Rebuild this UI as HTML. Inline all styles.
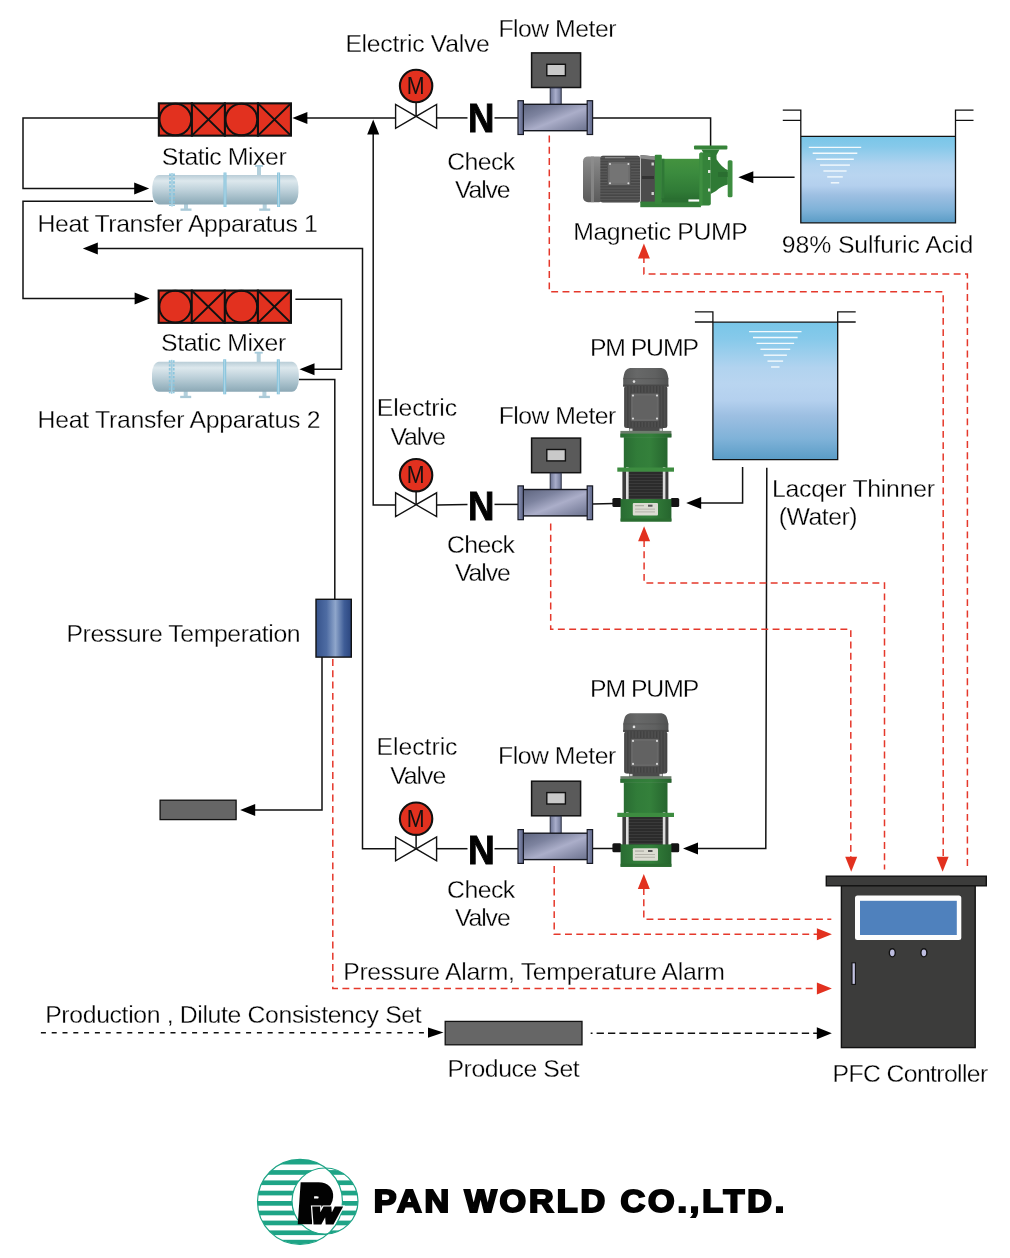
<!DOCTYPE html>
<html lang="en"><head><meta charset="utf-8"><title>PFC Controller Flow Diagram - PAN WORLD CO.,LTD.</title>
<style>
html,body{margin:0;padding:0;background:#fff;}
body{width:1010px;height:1258px;overflow:hidden;}
svg{display:block;font-family:"Liberation Sans", sans-serif;}
.ln{fill:none;stroke:#111;stroke-width:1.5;stroke-linejoin:miter;}
.rd{fill:none;stroke:#e5382b;stroke-width:1.5;stroke-dasharray:6.9 4.4;}
.bd{fill:none;stroke:#111;stroke-width:1.6;stroke-dasharray:5 5.8;}
text{white-space:pre;}
</style></head><body>
<svg width="1010" height="1258" viewBox="0 0 1010 1258" role="img" aria-label="PFC controller process flow diagram">

<defs>
<linearGradient id="gWater" x1="0" y1="0" x2="0" y2="1">
 <stop offset="0" stop-color="#78c6e8"/><stop offset="0.12" stop-color="#86c9ea"/>
 <stop offset="0.33" stop-color="#b1d3ef"/><stop offset="0.45" stop-color="#b9d5f0"/>
 <stop offset="0.57" stop-color="#b4d0ee"/><stop offset="0.68" stop-color="#9dbfe2"/>
 <stop offset="0.85" stop-color="#7fb2d8"/><stop offset="1" stop-color="#5a9cc6"/>
</linearGradient>
<linearGradient id="gHta" x1="0" y1="0" x2="0" y2="1">
 <stop offset="0" stop-color="#b9cdd7"/><stop offset="0.2" stop-color="#dde8ed"/>
 <stop offset="0.5" stop-color="#bfd2db"/><stop offset="0.85" stop-color="#9ab5c1"/><stop offset="1" stop-color="#8ca8b5"/>
</linearGradient>
<linearGradient id="gFm" x1="0" y1="0" x2="1" y2="1">
 <stop offset="0" stop-color="#5e657f"/><stop offset="0.3" stop-color="#7d839f"/>
 <stop offset="0.55" stop-color="#abaec9"/><stop offset="0.8" stop-color="#868ba7"/><stop offset="1" stop-color="#6b728e"/>
</linearGradient>
<linearGradient id="gFmN" x1="0" y1="0" x2="1" y2="0">
 <stop offset="0" stop-color="#6d7594"/><stop offset="0.5" stop-color="#a9aecb"/><stop offset="1" stop-color="#6d7594"/>
</linearGradient>
<linearGradient id="gFl" x1="0" y1="0" x2="1" y2="0">
 <stop offset="0" stop-color="#8a92b4"/><stop offset="1" stop-color="#5c6486"/>
</linearGradient>
<linearGradient id="gPt" x1="0" y1="0" x2="1" y2="0">
 <stop offset="0" stop-color="#36538c"/><stop offset="0.3" stop-color="#4e6ca3"/>
 <stop offset="0.55" stop-color="#8fa6cb"/><stop offset="0.8" stop-color="#3f5d97"/><stop offset="1" stop-color="#2b467f"/>
</linearGradient>
<linearGradient id="gGreenV" x1="0" y1="0" x2="0" y2="1">
 <stop offset="0" stop-color="#44933f"/><stop offset="0.35" stop-color="#3b8b3e"/>
 <stop offset="0.8" stop-color="#307b36"/><stop offset="1" stop-color="#296e30"/>
</linearGradient>
<linearGradient id="gGreenH" x1="0" y1="0" x2="1" y2="0">
 <stop offset="0" stop-color="#296c32"/><stop offset="0.3" stop-color="#317c39"/>
 <stop offset="0.6" stop-color="#34803b"/><stop offset="1" stop-color="#26652e"/>
</linearGradient>
<linearGradient id="gMotV" x1="0" y1="0" x2="0" y2="1">
 <stop offset="0" stop-color="#8d8d8d"/><stop offset="0.3" stop-color="#7c7c7c"/>
 <stop offset="1" stop-color="#5b5b5b"/>
</linearGradient>
<linearGradient id="gMotH" x1="0" y1="0" x2="1" y2="0">
 <stop offset="0" stop-color="#585959"/><stop offset="0.3" stop-color="#676868"/>
 <stop offset="0.7" stop-color="#606161"/><stop offset="1" stop-color="#505151"/>
</linearGradient>
<pattern id="pFinH" width="4" height="2.8" patternUnits="userSpaceOnUse">
 <rect width="4" height="2.8" fill="#3f3f3f"/><rect width="4" height="1.2" fill="#5f5f5f"/>
</pattern>
<pattern id="pFinV" width="3.2" height="4" patternUnits="userSpaceOnUse">
 <rect width="3.2" height="4" fill="#4a4a4a"/><rect width="1.3" height="4" fill="#363636"/>
</pattern>
<pattern id="pFinB" width="4" height="3" patternUnits="userSpaceOnUse">
 <rect width="4" height="3" fill="#2b2b2b"/><rect width="4" height="1" fill="#3a3a3a"/>
</pattern>
<clipPath id="cBig"><circle cx="300" cy="1201.8" r="42.5"/></clipPath>
<clipPath id="cSm"><circle cx="325" cy="1201" r="33"/></clipPath>
</defs>

<g id="lines">
<polyline class="ln" points="158.0,117.9 23.0,117.9 23.0,188.4 136.0,188.4"/>
<polygon points="149.2,188.4 134.2,182.4 134.2,194.4" fill="#000"/>
<polyline class="ln" points="153.0,201.3 23.0,201.3 23.0,298.6 136.0,298.6"/>
<polygon points="149.6,298.6 134.6,292.6 134.6,304.6" fill="#000"/>
<polyline class="ln" points="306.0,117.9 395.3,117.9"/>
<polygon points="292.4,117.9 307.4,111.9 307.4,123.9" fill="#000"/>
<polyline class="ln" points="437.0,117.9 467.5,117.9"/>
<polyline class="ln" points="494.5,117.9 518.0,117.9"/>
<polyline class="ln" points="592.6,117.9 710.6,117.9 710.6,146.0"/>
<polyline class="ln" points="794.6,177.3 752.0,177.3"/>
<polygon points="738.3,177.3 753.3,171.3 753.3,183.3" fill="#000"/>
<polyline class="ln" points="373.2,133.0 373.2,505.1 395.3,505.1"/>
<polygon points="373.2,119.5 367.2,134.5 379.2,134.5" fill="#000"/>
<polyline class="ln" points="96.0,248.4 362.5,248.4 362.5,848.7 395.3,848.7"/>
<polygon points="82.8,248.4 97.8,242.4 97.8,254.4" fill="#000"/>
<polyline class="ln" points="295.4,299.3 341.5,299.3 341.5,369.3 313.0,369.3"/>
<polygon points="299.5,369.3 314.5,363.3 314.5,375.3" fill="#000"/>
<polyline class="ln" points="299.0,379.4 334.8,379.4 334.8,599.0"/>
<polyline class="ln" points="322.0,657.0 322.0,810.0 254.0,810.0"/>
<polygon points="240.2,810.0 255.2,804.0 255.2,816.0" fill="#000"/>
<polyline class="ln" points="437.0,505.0 467.5,504.4"/>
<polyline class="ln" points="494.5,504.4 518.0,504.4"/>
<polyline class="ln" points="592.6,503.9 614.0,503.5"/>
<polyline class="ln" points="742.6,467.0 742.6,502.9 699.0,502.9"/>
<polygon points="686.2,502.9 701.2,496.9 701.2,508.9" fill="#000"/>
<polyline class="ln" points="766.8,467.7 765.8,848.4 696.0,848.4"/>
<polygon points="683.0,848.4 698.0,842.4 698.0,854.4" fill="#000"/>
<polyline class="ln" points="437.0,848.7 467.5,848.7"/>
<polyline class="ln" points="494.5,848.7 518.0,848.7"/>
<polyline class="ln" points="592.6,848.5 614.0,848.4"/>
</g>
<g id="dashes">
<polyline class="rd" points="549.3,135.5 549.3,291.8 943.2,291.8 943.2,858.0"/>
<polygon points="942.6,871.8 936.6,856.8 948.6,856.8" fill="#e2311f"/>
<polyline class="rd" points="643.9,256.0 643.9,273.9 967.4,273.9 967.4,868.5"/>
<polygon points="643.9,243.6 637.9,258.6 649.9,258.6" fill="#e2311f"/>
<polyline class="rd" points="550.7,523.5 550.7,629.3 850.8,629.3 850.8,858.0"/>
<polygon points="851.2,871.8 845.2,856.8 857.2,856.8" fill="#e2311f"/>
<polyline class="rd" points="644.1,540.0 644.1,582.9 884.5,582.9 884.5,869.4"/>
<polygon points="644.1,526.2 638.1,541.2 650.1,541.2" fill="#e2311f"/>
<polyline class="rd" points="554.2,866.0 554.2,934.3 818.0,934.3"/>
<polygon points="831.9,934.3 816.9,928.3 816.9,940.3" fill="#e2311f"/>
<polyline class="rd" points="643.8,888.0 643.8,919.2 831.3,919.2"/>
<polygon points="643.8,874.0 637.8,889.0 649.8,889.0" fill="#e2311f"/>
<polyline class="rd" points="332.8,659.0 332.8,988.4 818.0,988.4"/>
<polygon points="831.9,988.4 816.9,982.4 816.9,994.4" fill="#e2311f"/>
<polyline class="bd" points="40.9,1032.7 430.0,1032.7"/>
<polygon points="443.5,1032.6 428.0,1027.4 428.0,1037.8" fill="#000"/>
<polyline class="bd" style="stroke-dasharray:7.3 4.1;stroke-dashoffset:5.5" points="590.7,1033.3 818,1033.3"/>
<polygon points="831.8,1033.2 816.8,1027.2 816.8,1039.2" fill="#000"/>
</g>
<rect x="158.85" y="103.35" width="132.10" height="32.30" fill="#e2311f" stroke="#111" stroke-width="2.1"/>
<circle cx="175.36" cy="119.50" r="15.85" fill="none" stroke="#111" stroke-width="2"/>
<line x1="191.88" y1="102.30" x2="191.88" y2="136.70" stroke="#111" stroke-width="2.1"/>
<path d="M191.88,103.35 L224.90,135.65 M224.90,103.35 L191.88,135.65" stroke="#111" stroke-width="2" fill="none"/>
<line x1="224.90" y1="102.30" x2="224.90" y2="136.70" stroke="#111" stroke-width="2.1"/>
<circle cx="241.41" cy="119.50" r="15.85" fill="none" stroke="#111" stroke-width="2"/>
<line x1="257.93" y1="102.30" x2="257.93" y2="136.70" stroke="#111" stroke-width="2.1"/>
<path d="M257.93,103.35 L290.95,135.65 M290.95,103.35 L257.93,135.65" stroke="#111" stroke-width="2" fill="none"/>
<rect x="158.65" y="290.55" width="132.30" height="32.30" fill="#e2311f" stroke="#111" stroke-width="2.1"/>
<circle cx="175.19" cy="306.70" r="15.85" fill="none" stroke="#111" stroke-width="2"/>
<line x1="191.73" y1="289.50" x2="191.73" y2="323.90" stroke="#111" stroke-width="2.1"/>
<path d="M191.73,290.55 L224.80,322.85 M224.80,290.55 L191.73,322.85" stroke="#111" stroke-width="2" fill="none"/>
<line x1="224.80" y1="289.50" x2="224.80" y2="323.90" stroke="#111" stroke-width="2.1"/>
<circle cx="241.34" cy="306.70" r="15.85" fill="none" stroke="#111" stroke-width="2"/>
<line x1="257.88" y1="289.50" x2="257.88" y2="323.90" stroke="#111" stroke-width="2.1"/>
<path d="M257.88,290.55 L290.95,322.85 M290.95,290.55 L257.88,322.85" stroke="#111" stroke-width="2" fill="none"/>
<rect x="257.0" y="165.5" width="4" height="10.5" fill="#b3d0dc"/>
<rect x="255.0" y="165.0" width="8" height="1.8" fill="#a6cbdb"/>
<rect x="184.0" y="203.5" width="4" height="5.5" fill="#b3d0dc"/>
<rect x="180.5" y="208.5" width="11" height="2.3" fill="#a9c9d7"/>
<rect x="262.7" y="203.5" width="4" height="5.5" fill="#b3d0dc"/>
<rect x="259.2" y="208.5" width="11" height="2.3" fill="#a9c9d7"/>
<rect x="152.3" y="175.0" width="146.1" height="29.5" rx="7" ry="11.8" fill="url(#gHta)"/>
<line x1="170.0" y1="173.5" x2="170.0" y2="206.0" stroke="#86c3dc" stroke-width="1.8" stroke-dasharray="2.4,1.5" opacity="0.9"/>
<line x1="174.0" y1="173.5" x2="174.0" y2="206.0" stroke="#86c3dc" stroke-width="1.8" stroke-dasharray="2.4,1.5" opacity="0.9"/>
<line x1="172.0" y1="173.0" x2="172.0" y2="206.5" stroke="#9fcde0" stroke-width="1.6"/>
<line x1="225.0" y1="172.5" x2="225.0" y2="207.0" stroke="#86c3dc" stroke-width="3"/>
<line x1="225.0" y1="173.0" x2="225.0" y2="206.5" stroke="#b5d9e8" stroke-width="1"/>
<line x1="278.6" y1="172.5" x2="278.6" y2="207.0" stroke="#86c3dc" stroke-width="3"/>
<line x1="278.6" y1="173.0" x2="278.6" y2="206.5" stroke="#b5d9e8" stroke-width="1"/>
<rect x="256.7" y="352.3" width="4" height="10.5" fill="#b3d0dc"/>
<rect x="254.7" y="351.8" width="8" height="1.8" fill="#a6cbdb"/>
<rect x="183.7" y="390.8" width="4" height="5.5" fill="#b3d0dc"/>
<rect x="180.2" y="395.8" width="11" height="2.3" fill="#a9c9d7"/>
<rect x="262.4" y="390.8" width="4" height="5.5" fill="#b3d0dc"/>
<rect x="258.9" y="395.8" width="11" height="2.3" fill="#a9c9d7"/>
<rect x="152.0" y="361.8" width="146.8" height="30.0" rx="7" ry="12.0" fill="url(#gHta)"/>
<line x1="169.7" y1="360.3" x2="169.7" y2="393.3" stroke="#86c3dc" stroke-width="1.8" stroke-dasharray="2.4,1.5" opacity="0.9"/>
<line x1="173.7" y1="360.3" x2="173.7" y2="393.3" stroke="#86c3dc" stroke-width="1.8" stroke-dasharray="2.4,1.5" opacity="0.9"/>
<line x1="171.7" y1="359.8" x2="171.7" y2="393.8" stroke="#9fcde0" stroke-width="1.6"/>
<line x1="224.7" y1="359.3" x2="224.7" y2="394.3" stroke="#86c3dc" stroke-width="3"/>
<line x1="224.7" y1="359.8" x2="224.7" y2="393.8" stroke="#b5d9e8" stroke-width="1"/>
<line x1="278.3" y1="359.3" x2="278.3" y2="394.3" stroke="#86c3dc" stroke-width="3"/>
<line x1="278.3" y1="359.8" x2="278.3" y2="393.8" stroke="#b5d9e8" stroke-width="1"/>
<line class="ln" x1="416.1" y1="102.0" x2="416.1" y2="116.4"/>
<polygon points="395.6,104.5 395.6,128.3 416.1,116.4 436.6,128.3 436.6,104.5 416.1,116.4" fill="#fff" stroke="#111" stroke-width="1.4" stroke-linejoin="miter"/>
<circle cx="416.1" cy="86.0" r="16.2" fill="#e2311f" stroke="#111" stroke-width="2.1"/>
<line class="ln" x1="416.1" y1="491.2" x2="416.1" y2="504.7"/>
<polygon points="395.6,492.8 395.6,516.6 416.1,504.7 436.6,516.6 436.6,492.8 416.1,504.7" fill="#fff" stroke="#111" stroke-width="1.4" stroke-linejoin="miter"/>
<circle cx="416.1" cy="475.2" r="16.2" fill="#e2311f" stroke="#111" stroke-width="2.1"/>
<line class="ln" x1="416.1" y1="834.7" x2="416.1" y2="848.9"/>
<polygon points="395.6,837.0 395.6,860.8 416.1,848.9 436.6,860.8 436.6,837.0 416.1,848.9" fill="#fff" stroke="#111" stroke-width="1.4" stroke-linejoin="miter"/>
<circle cx="416.1" cy="818.7" r="16.2" fill="#e2311f" stroke="#111" stroke-width="2.1"/>
<rect x="531.6" y="52.9" width="49" height="34.6" fill="#5a5a5a" stroke="#111" stroke-width="1.5"/>
<rect x="546.8" y="64.3" width="18.6" height="11.4" fill="#c9c9c9" stroke="#111" stroke-width="1.4"/>
<rect x="550.2" y="87.9" width="11" height="17.0" fill="url(#gFmN)" stroke="#2a2e40" stroke-width="1"/>
<rect x="522.8" y="104.3" width="65.6" height="26.4" fill="url(#gFm)" stroke="#15171f" stroke-width="1.4"/>
<rect x="518.0" y="100.7" width="5.4" height="33.8" fill="url(#gFl)" stroke="#191b26" stroke-width="1.2"/>
<rect x="587.2" y="100.7" width="5.4" height="33.8" fill="url(#gFl)" stroke="#191b26" stroke-width="1.2"/>
<rect x="531.6" y="438.1" width="49" height="34.6" fill="#5a5a5a" stroke="#111" stroke-width="1.5"/>
<rect x="546.8" y="449.5" width="18.6" height="11.4" fill="#c9c9c9" stroke="#111" stroke-width="1.4"/>
<rect x="550.2" y="473.1" width="11" height="17.0" fill="url(#gFmN)" stroke="#2a2e40" stroke-width="1"/>
<rect x="522.8" y="489.5" width="65.6" height="26.4" fill="url(#gFm)" stroke="#15171f" stroke-width="1.4"/>
<rect x="518.0" y="485.9" width="5.4" height="33.8" fill="url(#gFl)" stroke="#191b26" stroke-width="1.2"/>
<rect x="587.2" y="485.9" width="5.4" height="33.8" fill="url(#gFl)" stroke="#191b26" stroke-width="1.2"/>
<rect x="531.6" y="781.2" width="49" height="34.6" fill="#5a5a5a" stroke="#111" stroke-width="1.5"/>
<rect x="546.8" y="792.6" width="18.6" height="11.4" fill="#c9c9c9" stroke="#111" stroke-width="1.4"/>
<rect x="550.2" y="816.2" width="11" height="17.6" fill="url(#gFmN)" stroke="#2a2e40" stroke-width="1"/>
<rect x="522.8" y="833.2" width="65.6" height="26.4" fill="url(#gFm)" stroke="#15171f" stroke-width="1.4"/>
<rect x="518.0" y="829.6" width="5.4" height="33.8" fill="url(#gFl)" stroke="#191b26" stroke-width="1.2"/>
<rect x="587.2" y="829.6" width="5.4" height="33.8" fill="url(#gFl)" stroke="#191b26" stroke-width="1.2"/>
<rect x="800.8" y="136.4" width="154.7" height="86.4" fill="url(#gWater)"/>
<line x1="808.8" y1="147.4" x2="861.2" y2="147.4" stroke="#f4fafd" stroke-width="1.4"/>
<line x1="812.7" y1="153.3" x2="857.3" y2="153.3" stroke="#f4fafd" stroke-width="1.4"/>
<line x1="816.2" y1="159.2" x2="853.8" y2="159.2" stroke="#f4fafd" stroke-width="1.4"/>
<line x1="820.1" y1="165.1" x2="849.9" y2="165.1" stroke="#f4fafd" stroke-width="1.4"/>
<line x1="823.4" y1="171.0" x2="846.6" y2="171.0" stroke="#f4fafd" stroke-width="1.4"/>
<line x1="827.2" y1="176.9" x2="842.8" y2="176.9" stroke="#f4fafd" stroke-width="1.4"/>
<line x1="830.8" y1="182.8" x2="839.2" y2="182.8" stroke="#f4fafd" stroke-width="1.4"/>
<path class="ln" style="stroke-width:1.3" d="M782.8,110.2 H800.8 V222.8 H955.5 V110.2 H973.5 M782.8,120.4 H800.8 M955.5,120.4 H973.5 M800.8,136.4 H955.5"/>
<rect x="712.9" y="322.2" width="124.8" height="137.4" fill="url(#gWater)"/>
<line x1="749.1" y1="331.6" x2="801.5" y2="331.6" stroke="#f4fafd" stroke-width="1.4"/>
<line x1="753.0" y1="337.5" x2="797.6" y2="337.5" stroke="#f4fafd" stroke-width="1.4"/>
<line x1="756.5" y1="343.4" x2="794.1" y2="343.4" stroke="#f4fafd" stroke-width="1.4"/>
<line x1="760.4" y1="349.3" x2="790.2" y2="349.3" stroke="#f4fafd" stroke-width="1.4"/>
<line x1="763.7" y1="355.2" x2="786.9" y2="355.2" stroke="#f4fafd" stroke-width="1.4"/>
<line x1="767.5" y1="361.1" x2="783.1" y2="361.1" stroke="#f4fafd" stroke-width="1.4"/>
<line x1="771.1" y1="367.0" x2="779.5" y2="367.0" stroke="#f4fafd" stroke-width="1.4"/>
<path class="ln" style="stroke-width:1.3" d="M694.9,311.8 H712.9 V459.6 H837.7 V311.8 H855.7 M694.9,322.0 H712.9 M837.7,322.0 H855.7 M712.9,322.2 H837.7"/>
<rect x="694" y="145.4" width="33.4" height="4.2" rx="1" fill="#368439"/>
<path d="M701.5,149.6 H719.5 L716.5,155 V159 H704.5 V155 Z" fill="#2f7a35"/>
<rect x="583" y="156.4" width="21" height="45.8" rx="5" fill="url(#gMotV)"/>
<rect x="591" y="156.4" width="3" height="45.8" fill="#8e8e8e" opacity="0.7"/>
<rect x="600.4" y="155.8" width="39.6" height="46.6" rx="2.5" fill="url(#pFinH)"/>
<rect x="600.4" y="155.8" width="39.6" height="46.6" rx="2.5" fill="#555" opacity="0.3"/>
<rect x="605" y="157" width="20" height="1.3" fill="#8a8a8a"/>
<rect x="607.6" y="161.6" width="23" height="24" rx="1.5" fill="#6c6c6c" stroke="#505050" stroke-width="1"/>
<rect x="610" y="164" width="18.4" height="19.2" rx="1" fill="#747474"/>
<circle cx="610" cy="164" r="1" fill="#dadada"/>
<circle cx="628.4" cy="164" r="1" fill="#dadada"/>
<circle cx="610" cy="183.2" r="1" fill="#dadada"/>
<circle cx="628.4" cy="183.2" r="1" fill="#dadada"/>
<path d="M640.6,155 L655,156.5 V203 H640.6 Z" fill="#4c4c4c"/>
<path d="M640.6,155 L655,156.5 V160 L640.6,158.5 Z" fill="#8c8c8c"/>
<rect x="642" y="176" width="12" height="3" fill="#333"/>
<rect x="651.5" y="162.5" width="2.4" height="3" fill="#d0d0d0"/><rect x="651.5" y="192" width="2.4" height="3" fill="#d0d0d0"/>
<rect x="640.3" y="201.6" width="60.6" height="5.6" fill="#347f39"/>
<rect x="654.8" y="154.8" width="7" height="49.4" rx="1" fill="#36853a"/>
<rect x="661.4" y="158.8" width="38.6" height="40.6" fill="url(#gGreenV)"/>
<rect x="661.4" y="158.8" width="3" height="40.6" fill="#2f7836"/>
<rect x="661.4" y="198.4" width="27" height="4" fill="#2a6f31"/>
<rect x="699.4" y="152.6" width="11.4" height="52.8" rx="2" fill="#35833a"/>
<rect x="699.4" y="152.6" width="3.2" height="52.8" rx="1.5" fill="#3f8f41"/>
<rect x="708" y="157" width="2.6" height="3" fill="#e6e6e0"/>
<rect x="708" y="170" width="2.6" height="3" fill="#e6e6e0"/>
<rect x="708" y="188.5" width="2.6" height="3" fill="#e6e6e0"/>
<path d="M710.6,156 L716,158.5 Q722,168 727.9,170 V184.4 Q721,186 716,191 L710.6,194 Z" fill="#2f7a35"/>
<path d="M718,172 H727.9 V177 H718 Z" fill="#2a6e30"/>
<rect x="727.7" y="160.2" width="4.8" height="37" rx="1.5" fill="#3d8d40"/>
<path d="M630,367.9 H661.5 Q666.5,368.6 667.6,374.6 L668.4,378.6 V386.6 H623.2 V378.6 L624,374.6 Q625,368.6 630,367.9Z" fill="url(#gMotH)"/>
<rect x="623.2" y="378.1" width="45.2" height="1" fill="#505050" opacity="0.6"/>
<rect x="623.2" y="384.6" width="45.2" height="2" fill="#484848"/>
<rect x="624.2" y="386.1" width="43.1" height="42" rx="2.5" fill="url(#pFinV)"/>
<rect x="624.2" y="386.1" width="43.1" height="42" rx="2.5" fill="#555" opacity="0.35"/>
<rect x="630.6" y="393.1" width="28.6" height="28.4" rx="1.5" fill="#686868" stroke="#4a4a4a" stroke-width="1"/>
<rect x="633" y="395.6" width="23.8" height="23.4" rx="1" fill="#626262"/>
<circle cx="633" cy="395.6" r="1.1" fill="#d8d8d8"/>
<circle cx="657" cy="395.6" r="1.1" fill="#d8d8d8"/>
<circle cx="633" cy="418.6" r="1.1" fill="#d8d8d8"/>
<circle cx="657" cy="418.6" r="1.1" fill="#d8d8d8"/>
<circle cx="634" cy="381.6" r="1.3" fill="#e0e0e0"/>
<rect x="629" y="427.1" width="34" height="6" fill="#4a4a4a"/>
<rect x="629.5" y="428.6" width="3" height="2.5" fill="#cfcfcf"/><rect x="659.5" y="428.6" width="3" height="2.5" fill="#cfcfcf"/>
<rect x="620.4" y="430.9" width="51" height="6.5" fill="#6c7c6c"/>
<rect x="620.4" y="433.6" width="51" height="3.8" fill="url(#gGreenH)"/>
<rect x="623.8" y="437.1" width="43.7" height="31" fill="url(#gGreenH)"/>
<rect x="622.4" y="471.1" width="46" height="29" fill="#3c3c3c"/>
<rect x="628.6" y="471.1" width="34.2" height="29" fill="url(#pFinB)"/>
<rect x="626" y="467.1" width="2.6" height="33" fill="#dcdcdc"/><rect x="662.8" y="467.1" width="2.6" height="33" fill="#dcdcdc"/>
<rect x="617.3" y="467.5" width="56.7" height="4.2" fill="#3d8c40"/>
<rect x="612.4" y="497.9" width="9" height="9" rx="1.5" fill="#141414"/><rect x="670.6" y="497.9" width="8.6" height="9" rx="1.5" fill="#141414"/>
<rect x="620.6" y="499.1" width="50.8" height="22.4" fill="url(#gGreenH)"/>
<rect x="620.6" y="518.5" width="50.8" height="3" fill="#2a6c30"/>
<rect x="632.8" y="502.9" width="25.2" height="12.5" rx="1" fill="#dcdcd2"/>
<rect x="635" y="505.3" width="9" height="0.9" fill="#9a9a92"/><rect x="648" y="504.7" width="4.5" height="2" fill="#555"/>
<rect x="635" y="508.7" width="20" height="0.8" fill="#aaa9a0"/><rect x="635" y="511.5" width="20" height="0.8" fill="#aaa9a0"/>
<path d="M630,713.2 H661.5 Q666.5,713.9 667.6,719.9 L668.4,723.9 V731.9 H623.2 V723.9 L624,719.9 Q625,713.9 630,713.2Z" fill="url(#gMotH)"/>
<rect x="623.2" y="723.4" width="45.2" height="1" fill="#505050" opacity="0.6"/>
<rect x="623.2" y="729.9" width="45.2" height="2" fill="#484848"/>
<rect x="624.2" y="731.4" width="43.1" height="42" rx="2.5" fill="url(#pFinV)"/>
<rect x="624.2" y="731.4" width="43.1" height="42" rx="2.5" fill="#555" opacity="0.35"/>
<rect x="630.6" y="738.4" width="28.6" height="28.4" rx="1.5" fill="#686868" stroke="#4a4a4a" stroke-width="1"/>
<rect x="633" y="740.9" width="23.8" height="23.4" rx="1" fill="#626262"/>
<circle cx="633" cy="740.9" r="1.1" fill="#d8d8d8"/>
<circle cx="657" cy="740.9" r="1.1" fill="#d8d8d8"/>
<circle cx="633" cy="763.9" r="1.1" fill="#d8d8d8"/>
<circle cx="657" cy="763.9" r="1.1" fill="#d8d8d8"/>
<circle cx="634" cy="726.9" r="1.3" fill="#e0e0e0"/>
<rect x="629" y="772.4" width="34" height="6" fill="#4a4a4a"/>
<rect x="629.5" y="773.9" width="3" height="2.5" fill="#cfcfcf"/><rect x="659.5" y="773.9" width="3" height="2.5" fill="#cfcfcf"/>
<rect x="620.4" y="776.2" width="51" height="6.5" fill="#6c7c6c"/>
<rect x="620.4" y="778.9" width="51" height="3.8" fill="url(#gGreenH)"/>
<rect x="623.8" y="782.4" width="43.7" height="31" fill="url(#gGreenH)"/>
<rect x="622.4" y="816.4" width="46" height="29" fill="#3c3c3c"/>
<rect x="628.6" y="816.4" width="34.2" height="29" fill="url(#pFinB)"/>
<rect x="626" y="812.4" width="2.6" height="33" fill="#dcdcdc"/><rect x="662.8" y="812.4" width="2.6" height="33" fill="#dcdcdc"/>
<rect x="617.3" y="812.8" width="56.7" height="4.2" fill="#3d8c40"/>
<rect x="612.4" y="843.2" width="9" height="9" rx="1.5" fill="#141414"/><rect x="670.6" y="843.2" width="8.6" height="9" rx="1.5" fill="#141414"/>
<rect x="620.6" y="844.4" width="50.8" height="22.4" fill="url(#gGreenH)"/>
<rect x="620.6" y="863.8" width="50.8" height="3" fill="#2a6c30"/>
<rect x="632.8" y="848.2" width="25.2" height="12.5" rx="1" fill="#dcdcd2"/>
<rect x="635" y="850.6" width="9" height="0.9" fill="#9a9a92"/><rect x="648" y="850.0" width="4.5" height="2" fill="#555"/>
<rect x="635" y="854.0" width="20" height="0.8" fill="#aaa9a0"/><rect x="635" y="856.8" width="20" height="0.8" fill="#aaa9a0"/>
<rect x="316" y="599.3" width="35.3" height="57.8" fill="url(#gPt)" stroke="#111" stroke-width="1.4"/>
<rect x="160.1" y="800.2" width="76" height="19.4" fill="#666" stroke="#111" stroke-width="1.3"/>
<rect x="445.2" y="1021.4" width="136.8" height="23.4" fill="#666" stroke="#111" stroke-width="1.3"/>
<rect x="841.4" y="885" width="133.8" height="162.6" fill="#3c3c3b" stroke="#111" stroke-width="1.4"/>
<rect x="826.3" y="876.2" width="160" height="9.6" fill="#3c3c3b" stroke="#111" stroke-width="1.4"/>
<rect x="855" y="895.6" width="106.3" height="44.5" rx="2.5" fill="#fdfdfd"/>
<rect x="860" y="900.8" width="96.8" height="34.2" fill="#4f81bd"/>
<ellipse cx="892.3" cy="952.8" rx="3" ry="4.1" fill="#bdbde0" stroke="#111" stroke-width="1.4"/>
<ellipse cx="923.9" cy="952.8" rx="3" ry="4.1" fill="#bdbde0" stroke="#111" stroke-width="1.4"/>
<rect x="852" y="962.8" width="3.4" height="21.6" fill="#c3c3e3" stroke="#111" stroke-width="1.1"/>
<g clip-path="url(#cBig)"><rect x="250" y="1159.8" width="120" height="4.7" fill="#1ea486"/><rect x="250" y="1170.1" width="120" height="4.7" fill="#1ea486"/><rect x="250" y="1180.4" width="120" height="4.7" fill="#1ea486"/><rect x="250" y="1190.7" width="120" height="4.7" fill="#1ea486"/><rect x="250" y="1201.0" width="120" height="4.7" fill="#1ea486"/><rect x="250" y="1210.6" width="120" height="4.7" fill="#1ea486"/><rect x="250" y="1220.6" width="120" height="4.7" fill="#1ea486"/><rect x="250" y="1230.4" width="120" height="4.7" fill="#1ea486"/><rect x="250" y="1239.8" width="120" height="4.7" fill="#1ea486"/></g>
<g clip-path="url(#cSm)"><rect x="250" y="1159.8" width="120" height="4.7" fill="#1ea486"/><rect x="250" y="1170.1" width="120" height="4.7" fill="#1ea486"/><rect x="250" y="1180.4" width="120" height="4.7" fill="#1ea486"/><rect x="250" y="1190.7" width="120" height="4.7" fill="#1ea486"/><rect x="250" y="1201.0" width="120" height="4.7" fill="#1ea486"/><rect x="250" y="1210.6" width="120" height="4.7" fill="#1ea486"/><rect x="250" y="1220.6" width="120" height="4.7" fill="#1ea486"/><rect x="250" y="1230.4" width="120" height="4.7" fill="#1ea486"/><rect x="250" y="1239.8" width="120" height="4.7" fill="#1ea486"/></g>
<g clip-path="url(#cBig)"><circle cx="325" cy="1201" r="33" fill="#fff"/></g>
<circle cx="300" cy="1201.8" r="42.5" fill="none" stroke="#1ea486" stroke-width="1.2"/>
<circle cx="325" cy="1201" r="33" fill="none" stroke="#1ea486" stroke-width="1.2"/>
<g id="labels" opacity="0.995"><text x="345.40" y="52.30" font-size="24.8" font-weight="normal" font-style="normal" fill="#000" letter-spacing="-0.306" stroke="#fff" stroke-width="0.28">Electric Valve</text>
<text x="498.40" y="36.70" font-size="24.8" font-weight="normal" font-style="normal" fill="#000" letter-spacing="-0.509" stroke="#fff" stroke-width="0.28">Flow Meter</text>
<text x="161.80" y="165.00" font-size="24.8" font-weight="normal" font-style="normal" fill="#000" letter-spacing="-0.416" stroke="#fff" stroke-width="0.28">Static Mixer</text>
<text x="447.20" y="169.70" font-size="24.8" font-weight="normal" font-style="normal" fill="#000" letter-spacing="-0.600" stroke="#fff" stroke-width="0.28">Check</text>
<text x="455.00" y="198.20" font-size="24.8" font-weight="normal" font-style="normal" fill="#000" letter-spacing="-1.153" stroke="#fff" stroke-width="0.28">Valve</text>
<text x="37.60" y="232.30" font-size="24.8" font-weight="normal" font-style="normal" fill="#000" letter-spacing="-0.387" stroke="#fff" stroke-width="0.28">Heat Transfer Apparatus 1</text>
<text x="573.20" y="239.90" font-size="24.8" font-weight="normal" font-style="normal" fill="#000" letter-spacing="-0.385" stroke="#fff" stroke-width="0.28">Magnetic PUMP</text>
<text x="781.80" y="253.20" font-size="24.8" font-weight="normal" font-style="normal" fill="#000" letter-spacing="-0.099" stroke="#fff" stroke-width="0.28">98% Sulfuric Acid</text>
<text x="161.00" y="350.80" font-size="24.8" font-weight="normal" font-style="normal" fill="#000" letter-spacing="-0.389" stroke="#fff" stroke-width="0.28">Static Mixer</text>
<text x="37.50" y="428.30" font-size="24.8" font-weight="normal" font-style="normal" fill="#000" letter-spacing="-0.270" stroke="#fff" stroke-width="0.28">Heat Transfer Apparatus 2</text>
<text x="589.90" y="356.00" font-size="24.8" font-weight="normal" font-style="normal" fill="#000" letter-spacing="-1.099" stroke="#fff" stroke-width="0.28">PM PUMP</text>
<text x="376.80" y="416.00" font-size="24.8" font-weight="normal" font-style="normal" fill="#000" letter-spacing="-0.143" stroke="#fff" stroke-width="0.28">Electric</text>
<text x="390.50" y="445.40" font-size="24.8" font-weight="normal" font-style="normal" fill="#000" letter-spacing="-1.153" stroke="#fff" stroke-width="0.28">Valve</text>
<text x="498.70" y="424.00" font-size="24.8" font-weight="normal" font-style="normal" fill="#000" letter-spacing="-0.554" stroke="#fff" stroke-width="0.28">Flow Meter</text>
<text x="447.00" y="552.90" font-size="24.8" font-weight="normal" font-style="normal" fill="#000" letter-spacing="-0.575" stroke="#fff" stroke-width="0.28">Check</text>
<text x="455.00" y="581.30" font-size="24.8" font-weight="normal" font-style="normal" fill="#000" letter-spacing="-1.103" stroke="#fff" stroke-width="0.28">Valve</text>
<text x="772.00" y="496.70" font-size="24.8" font-weight="normal" font-style="normal" fill="#000" letter-spacing="-0.260" stroke="#fff" stroke-width="0.28">Lacqer Thinner</text>
<text x="778.80" y="525.10" font-size="24.8" font-weight="normal" font-style="normal" fill="#000" letter-spacing="-0.513" stroke="#fff" stroke-width="0.28">(Water)</text>
<text x="66.50" y="642.10" font-size="24.8" font-weight="normal" font-style="normal" fill="#000" letter-spacing="-0.423" stroke="#fff" stroke-width="0.28">Pressure Temperation</text>
<text x="590.10" y="696.80" font-size="24.8" font-weight="normal" font-style="normal" fill="#000" letter-spacing="-1.099" stroke="#fff" stroke-width="0.28">PM PUMP</text>
<text x="376.60" y="755.30" font-size="24.8" font-weight="normal" font-style="normal" fill="#000" letter-spacing="-0.057" stroke="#fff" stroke-width="0.28">Electric</text>
<text x="390.20" y="783.60" font-size="24.8" font-weight="normal" font-style="normal" fill="#000" letter-spacing="-1.028" stroke="#fff" stroke-width="0.28">Valve</text>
<text x="498.10" y="764.30" font-size="24.8" font-weight="normal" font-style="normal" fill="#000" letter-spacing="-0.498" stroke="#fff" stroke-width="0.28">Flow Meter</text>
<text x="447.10" y="897.60" font-size="24.8" font-weight="normal" font-style="normal" fill="#000" letter-spacing="-0.550" stroke="#fff" stroke-width="0.28">Check</text>
<text x="455.00" y="926.40" font-size="24.8" font-weight="normal" font-style="normal" fill="#000" letter-spacing="-1.128" stroke="#fff" stroke-width="0.28">Valve</text>
<text x="343.20" y="980.40" font-size="24.8" font-weight="normal" font-style="normal" fill="#000" letter-spacing="-0.327" stroke="#fff" stroke-width="0.28">Pressure Alarm, Temperature Alarm</text>
<text x="45.20" y="1023.20" font-size="24.8" font-weight="normal" font-style="normal" fill="#000" letter-spacing="-0.359" stroke="#fff" stroke-width="0.28">Production , Dilute Consistency Set</text>
<text x="447.50" y="1077.10" font-size="24.8" font-weight="normal" font-style="normal" fill="#000" letter-spacing="-0.428" stroke="#fff" stroke-width="0.28">Produce Set</text>
<text x="832.50" y="1082.10" font-size="24.8" font-weight="normal" font-style="normal" fill="#000" letter-spacing="-0.633" stroke="#fff" stroke-width="0.28">PFC Controller</text>
<text transform="translate(406.78,93.90) scale(0.9228,1)" font-size="23.2" font-weight="normal" font-style="normal" fill="#111" letter-spacing="0.000" >M</text>
<text transform="translate(406.78,483.10) scale(0.9228,1)" font-size="23.2" font-weight="normal" font-style="normal" fill="#111" letter-spacing="0.000" >M</text>
<text transform="translate(406.78,826.60) scale(0.9228,1)" font-size="23.2" font-weight="normal" font-style="normal" fill="#111" letter-spacing="0.000" >M</text>
<text transform="translate(468.02,132.20) scale(0.8920,1)" font-size="41" font-weight="bold" font-style="normal" fill="#000" letter-spacing="0.000" stroke="#000" stroke-width="1">N</text>
<text transform="translate(468.02,519.80) scale(0.8920,1)" font-size="41" font-weight="bold" font-style="normal" fill="#000" letter-spacing="0.000" stroke="#000" stroke-width="1">N</text>
<text transform="translate(467.99,864.20) scale(0.9040,1)" font-size="41" font-weight="bold" font-style="normal" fill="#000" letter-spacing="0.000" stroke="#000" stroke-width="1">N</text>
<text transform="translate(373.76,1211.60) scale(1.1200,1)" font-size="30.5" font-weight="bold" font-style="normal" fill="#000" letter-spacing="2.600" stroke="#000" stroke-width="2" stroke-linejoin="miter">PAN WORLD CO.,LTD.</text><text transform="translate(298.9,1220.4) skewX(-4) scale(0.93,1)" font-size="48.5" font-weight="bold" fill="#000" stroke="#000" stroke-width="8.6" stroke-linejoin="miter">P</text>
<text transform="translate(312.6,1222.7) scale(1.22,1)" font-size="27.5" font-weight="bold" font-style="italic" fill="#000" stroke="#fff" stroke-width="5" stroke-linejoin="miter">w</text>
<text transform="translate(312.6,1222.7) scale(1.22,1)" font-size="27.5" font-weight="bold" font-style="italic" fill="#000" stroke="#000" stroke-width="3" stroke-linejoin="miter">w</text></g>
</svg>
</body></html>
